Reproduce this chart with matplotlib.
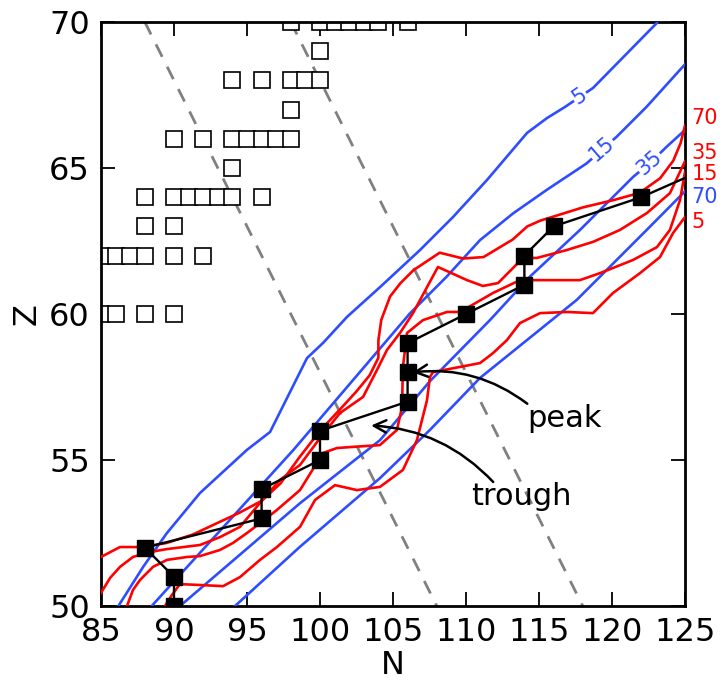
import matplotlib.pyplot as plt

# cuadro de núcleos conocidos (cuadrados abiertos)
known_n = [98, 100, 101, 102, 103, 104, 106,
           100,
           94, 96, 98, 99, 100,
           98,
           90, 92, 94, 95, 96, 97, 98,
           94,
           88, 90, 91, 92, 93, 94, 96,
           88, 90,
           85, 86, 87, 88, 90, 92,
           85, 86, 88, 90]
known_z = [70] * 7 + [69] + [68] * 5 + [67] + [66] * 7 + [65] + [64] * 7 + [63] * 2 + [62] * 6 + [60] * 4

# camino (cuadrados llenos)
path_n = [90, 90, 88, 96, 96, 100, 100, 106, 106, 106, 110, 114, 114, 116, 122]
path_z = [50, 51, 52, 53, 54, 55, 56, 57, 58, 59, 60, 61, 62, 63, 64]
path_end = (125, 64.66)

# isobaras A = N + Z
isobars = [158, 168]

# contornos azules
blue5_n = [86.19, 87.9, 89.5, 91.78, 94.98, 96.58, 99.11, 100.21, 101.85, 104.11, 106.85,
           109.11, 111.44, 114.18, 115.55, 116.78, 118.7, 123.08]
blue5_z = [50.0, 51.35, 52.49, 53.87, 55.34, 55.96, 58.49, 59.01, 59.9, 60.92, 62.19,
           63.32, 64.59, 66.2, 66.71, 67.09, 67.74, 69.97]
blue15_n = [88.47, 98.17, 106.16, 108.68, 110.96, 113.24, 115.53, 118.27, 120.32, 122.38, 125.0]
blue15_z = [50.0, 55.34, 60.02, 61.28, 62.53, 63.45, 64.25, 65.16, 66.07, 67.1, 68.55]
blue35_n = [90.41, 98.63, 104.11, 107.53, 111.64, 114.38, 117.81, 121.46, 122.6, 123.75, 125.0]
blue35_z = [50.0, 53.52, 55.68, 57.7, 59.79, 61.28, 62.88, 64.7, 65.17, 65.73, 66.3]
blue70_n = [94.18, 98.63, 104.11, 107.53, 110.96, 117.58, 119.64, 122.38, 125.0]
blue70_z = [50.0, 52.03, 54.38, 56.03, 57.81, 60.48, 61.51, 62.88, 64.2]

# contornos rojos
red70_n = [85.0, 86.3, 87.9, 89.5, 91.3, 93.0, 94.5, 96.0, 97.3, 98.6, 100.0, 101.4, 102.5,
           103.4, 104.0, 104.0, 104.2, 104.8, 105.5, 106.4, 108.2, 109.8, 111.2, 113.2,
           114.2, 115.1, 116.4, 118.0, 120.1, 121.9, 123.3, 124.2, 124.7, 125.0]
red70_z = [51.68, 52.02, 52.02, 52.16, 52.45, 52.85, 53.2, 53.6, 54.2, 55.1, 56.0, 56.75, 57.35,
           57.9, 58.5, 59.1, 59.8, 60.6, 61.05, 61.5, 62.1, 61.9, 61.95, 62.55,
           63.0, 63.2, 63.4, 63.65, 63.9, 64.15, 64.65, 65.25, 65.85, 66.45]
red35_n = [85.0, 85.62, 86.3, 87.19, 88.36, 89.52, 91.78, 93.15, 94.52, 95.89, 97.26, 98.63,
           100.0, 101.37, 102.95, 103.9, 104.59, 105.48, 106.37, 107.33, 108.08, 110.07,
           111.16, 112.2, 113.15, 113.9, 114.86, 116.9, 118.7, 120.55, 122.4, 123.97, 125.0]
red35_z = [50.45, 50.96, 51.34, 51.68, 51.85, 51.95, 52.09, 52.36, 52.71, 53.53, 54.32, 54.83,
           55.75, 56.61, 57.16, 58.08, 58.77, 59.35, 60.03, 60.92, 61.61, 61.16,
           60.96, 61.06, 61.54, 61.92, 61.92, 62.19, 62.47, 62.88, 63.46, 64.14, 65.23]
red15_n = [86.78, 87.19, 87.67, 88.56, 89.52, 90.9, 91.78, 93.15, 94.04, 95.0, 95.9, 97.05,
           98.63, 100.2, 101.16, 102.26, 104.1, 105.27, 105.62, 105.68, 105.96, 107.05,
           108.7, 109.6, 111.85, 113.7, 115.96, 117.8, 119.18, 121.44, 123.08, 123.97,
           124.66, 125.0]
red15_z = [50.0, 50.55, 50.89, 51.34, 51.58, 51.68, 51.71, 51.92, 52.16, 52.5, 52.84, 53.29,
           53.97, 55.24, 55.41, 55.45, 55.51, 56.03, 56.82, 58.18, 59.35, 59.79,
           60.07, 60.07, 60.72, 61.16, 61.16, 61.16, 61.4, 61.85, 62.29, 62.88,
           63.9, 64.86]
red5_n = [89.38, 89.86, 90.41, 91.78, 93.36, 94.52, 95.89, 97.05, 98.63, 99.66, 101.03, 102.53,
          104.11, 105.68, 106.64, 107.33, 107.53, 107.74, 110.96, 111.85, 112.81, 113.7,
          115.07, 116.92, 118.7, 120.07, 121.92, 123.29, 124.18, 125.0]
red5_z = [50.0, 50.38, 50.75, 50.72, 50.68, 50.99, 51.58, 52.02, 52.71, 53.63, 54.14, 53.97,
          54.08, 54.66, 55.68, 57.05, 57.84, 58.01, 58.32, 58.66, 59.11, 59.69,
          60.03, 60.07, 60.03, 60.72, 61.4, 61.95, 62.77, 63.32]

blue = '#2e4dff'
red = '#ff0000'

fig = plt.figure(figsize=(7.23, 6.81), dpi=100)
ax = fig.add_axes([0.1397, 0.1101, 0.8077, 0.8576])

# isobaras discontinuas
for a in isobars:
    ax.plot([a - 70, a - 50], [70, 50], color='gray', lw=2, dashes=(5, 4), zorder=1)

# núcleos conocidos
ax.plot(known_n, known_z, 's', ms=11.3, mfc='white', mec='black', mew=1.2, zorder=2)

# contornos
for n, z in [(blue5_n, blue5_z), (blue15_n, blue15_z), (blue35_n, blue35_z), (blue70_n, blue70_z)]:
    ax.plot(n, z, color=blue, lw=1.9, solid_joinstyle='round', zorder=3)
for n, z in [(red70_n, red70_z), (red35_n, red35_z), (red15_n, red15_z), (red5_n, red5_z)]:
    ax.plot(n, z, color=red, lw=1.9, solid_joinstyle='round', zorder=3)

# etiquetas de los contornos azules en línea
for txt, n, z, rot in [('5', 117.81, 67.44, 34), ('15', 119.29, 65.67, 41), ('35', 122.6, 65.17, 41)]:
    ax.text(n, z, txt, color=blue, fontsize=15, rotation=rot, ha='center', va='center',
            rotation_mode='anchor', zorder=4,
            bbox=dict(fc='white', ec='none', pad=0.5))

# etiquetas a la derecha
for txt, z, c in [('70', 66.7, red), ('35', 65.5, red), ('15', 64.78, red),
                  ('70', 64.02, blue), ('5', 63.16, red)]:
    ax.text(125.45, z, txt, color=c, fontsize=15, ha='left', va='center', clip_on=False)

# camino
ax.plot(path_n + [path_end[0]], path_z + [path_end[1]], color='black', lw=1.7, zorder=5)
ax.plot(path_n, path_z, 's', ms=11.5, color='black', zorder=6)

# anotaciones
ax.annotate('peak', xy=(106.35, 58.0), xytext=(114.2, 56.14), fontsize=22,
            ha='left', va='baseline',
            arrowprops=dict(arrowstyle='->', lw=1.8, color='black', relpos=(0.0, 1.0),
                            patchA=None, shrinkA=0, shrinkB=0,
                            connectionstyle='arc3,rad=0.2'), zorder=7)
ax.annotate('trough', xy=(103.5, 56.18), xytext=(110.35, 53.46), fontsize=22,
            ha='left', va='baseline',
            arrowprops=dict(arrowstyle='->', lw=1.8, color='black', relpos=(0.22, 1.0),
                            patchA=None, shrinkA=0, shrinkB=0,
                            connectionstyle='arc3,rad=0.2'), zorder=7)

ax.set_xlim(85, 125)
ax.set_ylim(50, 70)
ax.set_xticks(range(85, 126, 5))
ax.set_yticks(range(50, 71, 5))
ax.tick_params(direction='in', length=10, width=1.3, top=True, right=True,
               labelsize=23, pad=8)
for s in ax.spines.values():
    s.set_linewidth(2.0)
ax.set_xlabel('N', fontsize=23, labelpad=1)
ax.set_ylabel('Z', fontsize=23, labelpad=5)

plt.savefig('out.png', dpi=100)
